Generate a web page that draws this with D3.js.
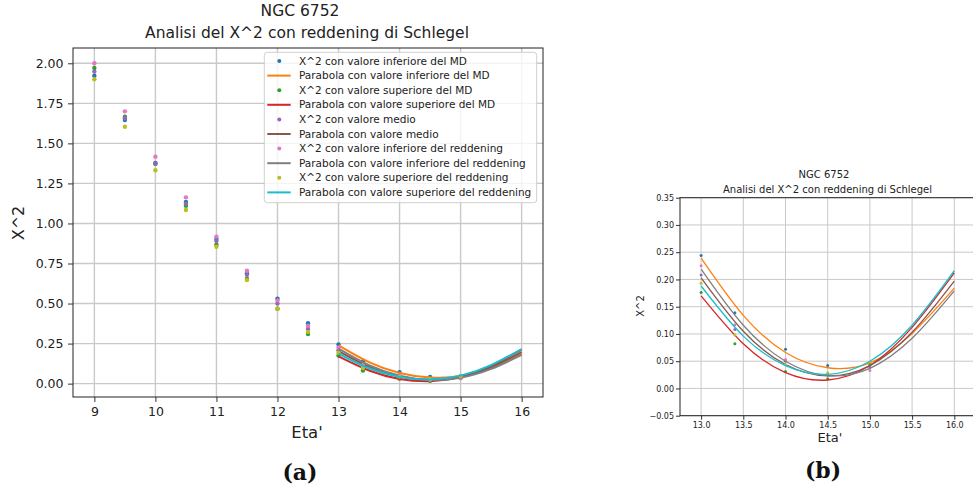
<!DOCTYPE html>
<html>
<head>
<meta charset="utf-8">
<script src="https://cdn.jsdelivr.net/npm/d3@7"></script>
<style>
body { margin: 0; background: #fff; }
svg { display: block; font-family: "DejaVu Sans", sans-serif; }
.tick text { fill: #222; }
</style>
</head>
<body>
<svg width="973" height="492"></svg>
<script>
/*global d3*/

// Eta' values of the chi^2 points and of the fitted parabolas
var etaPoints = [9, 9.5, 10, 10.5, 11, 11.5, 12, 12.5, 13, 13.4, 14, 14.5, 15];
var etaParabola = [13, 13.5, 14, 14.5, 15, 15.5, 16];

// X^2 points
var chiInfMD   = [1.923, 1.646, 1.378, 1.134, 0.903, 0.689, 0.531, 0.377, 0.244, 0.139, 0.072, 0.042, 0.046];
var chiSupMD   = [1.971, 1.667, 1.372, 1.111, 0.868, 0.655, 0.468, 0.310, 0.176, 0.082, 0.031, 0.018, 0.043];
var chiMedio   = [1.948, 1.657, 1.375, 1.124, 0.891, 0.679, 0.500, 0.341, 0.208, 0.108, 0.050, 0.025, 0.039];
var chiInfRedd = [2.000, 1.700, 1.417, 1.163, 0.918, 0.705, 0.520, 0.362, 0.225, 0.117, 0.053, 0.026, 0.033];
var chiSupRedd = [1.900, 1.604, 1.332, 1.084, 0.855, 0.647, 0.468, 0.323, 0.193, 0.098, 0.044, 0.029, 0.048];

// parabolas at etaParabola
var parInfMD   = [0.239, 0.134, 0.066, 0.038, 0.047, 0.101, 0.184];
var parSupMD   = [0.170, 0.082, 0.029, 0.0155, 0.042, 0.112, 0.212];
var parMedio   = [0.203, 0.105, 0.044, 0.023, 0.042, 0.103, 0.197];
var parInfRedd = [0.219, 0.116, 0.050, 0.0235, 0.037, 0.092, 0.179];
var parSupRedd = [0.188, 0.096, 0.042, 0.026, 0.050, 0.116, 0.216];

var legendLabels = [
  "X^2 con valore inferiore del MD",
  "Parabola con valore inferiore del MD",
  "X^2 con valore superiore del MD",
  "Parabola con valore superiore del MD",
  "X^2 con valore medio",
  "Parabola con valore medio",
  "X^2 con valore inferiore del reddening",
  "Parabola con valore inferiore del reddening",
  "X^2 con valore superiore del reddening",
  "Parabola con valore superiore del reddening"
];
var colors = ["#1f77b4", "#ff7f0e", "#2ca02c", "#d62728", "#9467bd",
              "#8c564b", "#e377c2", "#7f7f7f", "#bcbd22", "#17becf"];

// tick labels
var xTicksA = [9, 10, 11, 12, 13, 14, 15, 16];
var yTicksA = [0, 0.25, 0.5, 0.75, 1, 1.25, 1.5, 1.75, 2];
var xTicksB = [13, 13.5, 14, 14.5, 15, 15.5, 16];
var yTicksB = [-0.05, 0, 0.05, 0.1, 0.15, 0.2, 0.25, 0.3, 0.35];

var titleLine1 = "NGC 6752";
var titleLine2 = "Analisi del X^2 con reddening di Schlegel";

// series in plotting order (points, parabola, points, parabola ...)
var pointSets = [chiInfMD, chiSupMD, chiMedio, chiInfRedd, chiSupRedd];
var curveSets = [parInfMD, parSupMD, parMedio, parInfRedd, parSupRedd];
var series = [];
for (var i = 0; i < 5; i++) {
  series.push({ kind: "point", color: colors[2 * i], label: legendLabels[2 * i],
    values: etaPoints.map(function(e, j) { return [e, pointSets[i][j]]; }) });
  series.push({ kind: "line", color: colors[2 * i + 1], label: legendLabels[2 * i + 1],
    values: etaParabola.map(function(e, j) { return [e, curveSets[i][j]]; }) });
}

var svg = d3.select("svg");
svg.append("rect").attr("width", 973).attr("height", 492).attr("fill", "#fff");
var defs = svg.append("defs");

function drawPanel(p) {
  var x = d3.scaleLinear().domain(p.xDomain).range(p.xRange);
  var y = d3.scaleLinear().domain(p.yDomain).range(p.yRange);
  var g = svg.append("g");

  defs.append("clipPath").attr("id", "clip-" + p.id)
    .append("rect")
    .attr("x", p.xRange[0]).attr("y", p.yRange[1])
    .attr("width", p.xRange[1] - p.xRange[0]).attr("height", p.yRange[0] - p.yRange[1]);

  // grid
  g.selectAll(".gx").data(p.xTicks).enter().append("line")
    .attr("x1", function(d) { return x(d); }).attr("x2", function(d) { return x(d); })
    .attr("y1", p.yRange[0]).attr("y2", p.yRange[1])
    .attr("stroke", "#c9c9c9").attr("stroke-width", p.gridWidth);
  g.selectAll(".gy").data(p.yTicks).enter().append("line")
    .attr("y1", function(d) { return y(d); }).attr("y2", function(d) { return y(d); })
    .attr("x1", p.xRange[0]).attr("x2", p.xRange[1])
    .attr("stroke", "#c9c9c9").attr("stroke-width", p.gridWidth);

  var line = d3.line()
    .x(function(d) { return x(d[0]); })
    .y(function(d) { return y(d[1]); })
    .curve(d3.curveNatural);

  var plot = g.append("g").attr("clip-path", "url(#clip-" + p.id + ")");
  series.forEach(function(s) {
    if (s.kind === "line") {
      plot.append("path")
        .attr("d", line(s.values))
        .attr("fill", "none")
        .attr("stroke", s.color)
        .attr("stroke-width", p.lineWidth);
    } else {
      plot.selectAll(null).data(s.values).enter().append("circle")
        .attr("cx", function(d) { return x(d[0]); })
        .attr("cy", function(d) { return y(d[1]); })
        .attr("r", p.dotR)
        .attr("fill", s.color);
    }
  });

  // axes
  var ax = g.append("g").attr("transform", "translate(0," + p.yRange[0] + ")")
    .call(d3.axisBottom(x).tickValues(p.xTicks).tickFormat(d3.format(p.xFmt))
      .tickSize(p.tickLen).tickSizeOuter(0).tickPadding(p.xPad));
  var ay = g.append("g").attr("transform", "translate(" + p.xRange[0] + ",0)")
    .call(d3.axisLeft(y).tickValues(p.yTicks).tickFormat(d3.format(p.yFmt))
      .tickSize(p.tickLen).tickSizeOuter(0).tickPadding(p.yPad));
  [ax, ay].forEach(function(a) {
    a.select(".domain").remove();
    a.selectAll("text").attr("font-size", p.tickFont).attr("font-family", "DejaVu Sans");
    a.selectAll("line").attr("stroke", "#333");
  });

  // spines
  g.append("rect")
    .attr("x", p.xRange[0]).attr("y", p.yRange[1])
    .attr("width", p.xRange[1] - p.xRange[0]).attr("height", p.yRange[0] - p.yRange[1])
    .attr("fill", "none").attr("stroke", "#222").attr("stroke-width", 1);

  // titles and labels
  g.append("text").attr("x", p.t1[0]).attr("y", p.t1[1]).attr("text-anchor", "middle")
    .attr("font-size", p.titleFont).attr("fill", "#222").text(titleLine1);
  g.append("text").attr("x", p.t2[0]).attr("y", p.t2[1]).attr("text-anchor", "middle")
    .attr("font-size", p.titleFont).attr("fill", "#222").text(titleLine2);
  g.append("text").attr("x", p.xl[0]).attr("y", p.xl[1]).attr("text-anchor", "middle")
    .attr("font-size", p.xLabelFont).attr("fill", "#222").text("Eta'");
  g.append("text").attr("transform", "translate(" + p.yl[0] + "," + p.yl[1] + ") rotate(-90)")
    .attr("text-anchor", "middle")
    .attr("font-size", p.yLabelFont).attr("fill", "#222").text("X^2");
  g.append("text").attr("x", p.tag[0]).attr("y", p.tag[1]).attr("text-anchor", "middle")
    .attr("font-family", "DejaVu Serif").attr("font-weight", "bold")
    .attr("font-size", 22).attr("fill", "#111").text(p.tagText);
  return g;
}

drawPanel({
  id: "a",
  xDomain: [8.65, 16.35], xRange: [73, 543],
  yDomain: [-0.0835, 2.0955], yRange: [397, 48],
  xTicks: xTicksA, yTicks: yTicksA, xFmt: "d", yFmt: ".2f",
  tickLen: 5, xPad: 5.5, yPad: 4.5, tickFont: 12.5,
  gridWidth: 1.4, lineWidth: 2, dotR: 2.2,
  titleFont: 15.5, t1: [300, 16], t2: [307, 38],
  xLabelFont: 16.5, xl: [307, 438], yLabelFont: 16, yl: [24, 223],
  tag: [300, 480], tagText: "(a)"
});

drawPanel({
  id: "b",
  xDomain: [12.75, 16.25], xRange: [680, 975.4],
  yDomain: [-0.05, 0.35], yRange: [415.7, 197.7],
  xTicks: xTicksB, yTicks: yTicksB, xFmt: ".1f", yFmt: ".2f",
  tickLen: 4, xPad: 3, yPad: 2, tickFont: 8,
  gridWidth: 1, lineWidth: 1.3, dotR: 1.5,
  titleFont: 10, t1: [824, 178], t2: [827.5, 192.5],
  xLabelFont: 13, xl: [830, 441.5], yLabelFont: 10, yl: [643.5, 306],
  tag: [823, 478], tagText: "(b)"
});

// legend of panel (a)
var lg = svg.append("g");
lg.append("rect")
  .attr("x", 264.3).attr("y", 52.3).attr("width", 272.4).attr("height", 150.4).attr("rx", 3)
  .attr("fill", "#fff").attr("fill-opacity", 0.8)
  .attr("stroke", "#d0d0d0").attr("stroke-width", 1);
var rows = lg.selectAll(".row").data(series).enter().append("g")
  .attr("transform", function(d, i) { return "translate(0," + (61 + i * 14.6) + ")"; });
rows.each(function(d) {
  var r = d3.select(this);
  if (d.kind === "line") {
    r.append("line").attr("x1", 267.3).attr("x2", 290.7)
      .attr("stroke", d.color).attr("stroke-width", 2);
  } else {
    r.append("circle").attr("cx", 279.3).attr("r", 2).attr("fill", d.color);
  }
  r.append("text").attr("x", 299).attr("dy", "0.35em")
    .attr("font-size", 10.5).attr("fill", "#222").text(d.label);
});
</script>
</body>
</html>
